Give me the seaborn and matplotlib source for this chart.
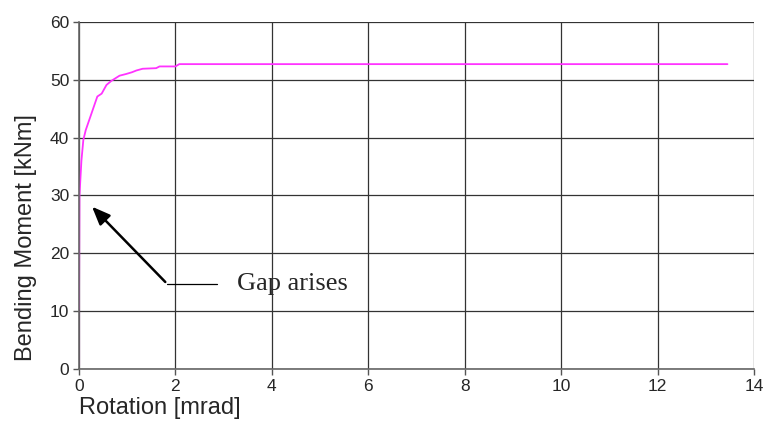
import numpy as np
import pandas as pd
import seaborn as sns
import matplotlib.pyplot as plt

# moment-rotation curve
rotation = [0.0, 0.0, 0.01, 0.05, 0.09, 0.14, 0.26, 0.38, 0.47, 0.57, 0.67, 0.84,
            0.98, 1.1, 1.19, 1.32, 1.6, 1.67, 2.0, 2.08, 13.45]
moment = [0.7, 20.0, 30.0, 36.0, 39.6, 41.3, 44.2, 47.1, 47.6, 49.1, 49.8, 50.7,
          51.0, 51.3, 51.6, 51.9, 52.0, 52.3, 52.3, 52.7, 52.7]
xticks = [0, 2, 4, 6, 8, 10, 12, 14]
yticks = [0, 10, 20, 30, 40, 50, 60]

df = pd.DataFrame({'rotation': rotation, 'moment': moment})

sns.set_style('white')
plt.rcParams['font.family'] = ['Liberation Sans', 'DejaVu Sans']

fig = plt.figure(figsize=(7.67, 4.21), dpi=100)
ax = fig.add_axes([0.103, 0.1235, 0.880, 0.8245])

sns.lineplot(data=df, x='rotation', y='moment', sort=False, color='#ff33ff',
             linewidth=1.3, ax=ax)

ax.set_xlim(0, 14)
ax.set_ylim(0, 60)
ax.set_xticks(xticks)
ax.set_yticks(yticks)
ax.grid(True, color='#333333', linewidth=0.9)
ax.set_axisbelow(True)
for s in ['top', 'right']:
    ax.spines[s].set_visible(False)
for s in ['left', 'bottom']:
    ax.spines[s].set_color('#666666')
    ax.spines[s].set_linewidth(1.2)
ax.tick_params(axis='both', labelsize=12.5, length=4, width=1, color='#555555',
               direction='out', bottom=True, left=True, pad=3)

ax.set_ylabel('Bending Moment [kNm]', fontsize=17)
ax.set_xlabel('Rotation [mrad]', fontsize=17, ha='left')
ax.xaxis.set_label_coords(0.0, -0.08)
ax.yaxis.set_label_coords(-0.062, 0.378)

# annotation
ax.annotate('', xy=(0.23, 28.4), xytext=(1.83, 14.7),
            arrowprops=dict(arrowstyle='-|>,head_length=1.1,head_width=0.45',
                            color='black', lw=1.8))
ax.plot([1.83, 2.86], [14.7, 14.7], color='black', linewidth=0.9)
ax.text(3.27, 14.7, 'Gap arises', fontsize=19, va='center', ha='left',
        family=['Liberation Serif', 'DejaVu Serif'])

fig.savefig('out.png', dpi=100)
